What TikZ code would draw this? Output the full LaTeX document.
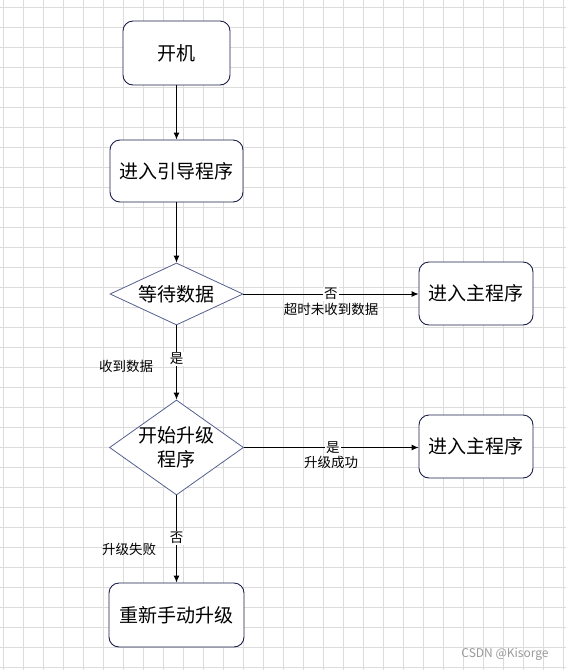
\documentclass[tikz,border=0pt]{standalone}
\usepackage{fontspec}
\setmainfont{Noto Sans CJK SC}
\usetikzlibrary{shapes.geometric,arrows.meta}
\definecolor{gridc}{HTML}{DCDCDC}
\definecolor{boxc}{HTML}{1C1F4A}
\definecolor{diac}{HTML}{55608F}
\definecolor{wmc}{HTML}{9A9A9A}
\tikzset{
  stepbox/.style={draw=boxc, line width=0.9pt, rounded corners=10pt, fill=white, inner sep=0pt, font=\fontsize{19}{23}\selectfont},
  decbox/.style={diamond, draw=diac, line width=0.8pt, fill=white, inner sep=0pt},
  dectext/.style={font=\fontsize{19}{24}\selectfont, align=center},
  arr/.style={draw=black, line width=0.9pt, -{Latex[length=7pt,width=6pt]}},
  lbl/.style={font=\fontsize{13.5}{16}\selectfont, inner sep=1pt},
  onlbl/.style={lbl, fill=white},
}
\begin{document}
\begin{tikzpicture}[x=1pt,y=-1pt]
\useasboundingbox (0,0) rectangle (566,670);
\fill[white] (0,0) rectangle (566,670);
% grid
\foreach \i in {0,...,28} {\draw[gridc, line width=0.8pt] ({3.3+20*\i},0) -- ({3.3+20*\i},670);}
\foreach \j in {0,...,33} {\draw[gridc, line width=0.8pt] (0,{7.3+20*\j}) -- (566,{7.3+20*\j});}

\node[stepbox, minimum width=107, minimum height=64] (start) at (176.5,53) {开机};
\node[stepbox, minimum width=133, minimum height=62] (boot) at (176.5,171) {进入引导程序};
\node[decbox, minimum width=133, minimum height=62] (wait) at (176.5,294) {};
\node[dectext] at (wait) {等待数据};
\node[stepbox, minimum width=114, minimum height=63] (main1) at (476,293.5) {进入主程序};
\node[decbox, minimum width=134, minimum height=95] (upg) at (176.5,447.5) {};
\node[dectext] at (upg) {开始升级\\程序};
\node[stepbox, minimum width=114, minimum height=63] (main2) at (476,446.5) {进入主程序};
\node[stepbox, minimum width=135, minimum height=64] (manual) at (176.5,615) {重新手动升级};

\draw[arr] (start) -- (boot);
\draw[arr] (boot) -- (wait);
\draw[arr] (wait.east) -- node[onlbl, pos=0.5] (n1) {否} (wait.east -| main1.west);
\node[lbl] (t1) at (331,309) {超时未收到数据};
\draw[arr] (wait.south) -- node[onlbl, pos=0.45] (y1) {是} (upg.north);
\node[lbl] (t2) at (126,366) {收到数据};
\draw[arr] (upg.east) -- node[onlbl, pos=0.51] (y2) {是} (upg.east -| main2.west);
\node[lbl] (t3) at (331,462) {升级成功};
\draw[arr] (upg.south) -- node[onlbl, pos=0.49] (n2) {否} (manual.north);
\node[lbl] (t4) at (129,549) {升级失败};

\node[text=wmc, font=\fontsize{12}{14}\selectfont] (wm) at (505,654) {CSDN @Kisorge};
\end{tikzpicture}
\end{document}
